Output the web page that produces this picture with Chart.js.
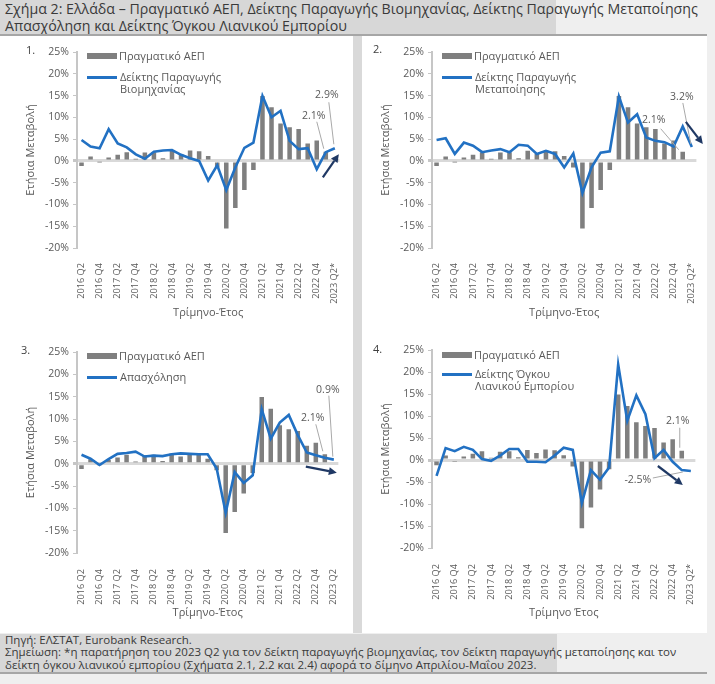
<!DOCTYPE html>
<html><head><meta charset="utf-8">
<script src="https://cdn.jsdelivr.net/npm/chart.js@4.4.0/dist/chart.umd.min.js"></script>
<style>
html,body{margin:0;padding:0;}
body{width:715px;height:684px;background:#efefef;position:relative;overflow:hidden;font-family:'Open Sans',sans-serif;color:#595959;}
.abs{position:absolute;}
canvas{position:absolute;}
.lgtext{position:absolute;font-size:11px;line-height:12px;color:#595959;white-space:nowrap;}
.num{position:absolute;font-size:11px;line-height:12px;color:#404040;}
</style></head>
<body>
<div class="abs" style="left:0;top:0;width:556px;height:34px;background:#d7d7d7;"></div>
<div class="abs" style="left:5px;top:1px;width:710px;font-size:14.2px;line-height:16.5px;color:#3a3a3a;white-space:nowrap;">Σχήμα 2: Ελλάδα – Πραγματικό ΑΕΠ, Δείκτης Παραγωγής Βιομηχανίας, Δείκτης Παραγωγής Μεταποίησης<br>Απασχόληση και Δείκτης Όγκου Λιανικού Εμπορίου</div>
<div class="abs" style="left:0;top:34px;width:707px;height:2px;background:#a6a6a6;"></div>
<div class="abs" style="left:0;top:36px;width:353px;height:597px;background:#ffffff;"></div>
<div class="abs" style="left:353px;top:36px;width:9px;height:597px;background:#d9d9d9;"></div>
<div class="abs" style="left:362px;top:36px;width:345px;height:597px;background:#ffffff;"></div>
<div class="abs" style="left:0;top:634px;width:557px;height:38px;background:#d7d7d7;"></div>
<div class="abs" style="left:5px;top:634px;width:710px;font-size:11.5px;line-height:12.3px;color:#3a3a3a;white-space:nowrap;">Πηγή: ΕΛΣΤΑΤ, Eurobank Research.<br>Σημείωση: *η παρατήρηση του 2023 Q2 για τον δείκτη παραγωγής βιομηχανίας, τον δείκτη παραγωγής μεταποίησης και τον<br>δείκτη όγκου λιανικού εμπορίου (Σχήματα 2.1, 2.2 και 2.4) αφορά το δίμηνο Απριλίου-Μαΐου 2023.</div>
<div class="abs" style="left:0;top:672px;width:707px;height:2px;background:#a6a6a6;"></div>

<canvas id="c1" width="353" height="290" style="left:0;top:40px;"></canvas>
<canvas id="c2" width="355" height="290" style="left:355px;top:40px;"></canvas>
<canvas id="c3" width="353" height="290" style="left:0;top:339px;"></canvas>
<canvas id="c4" width="355" height="290" style="left:355px;top:339px;"></canvas>

<div class="num" style="left:26px;top:44px;">1.</div>
<div class="num" style="left:373px;top:43px;">2.</div>
<div class="num" style="left:21px;top:344px;">3.</div>
<div class="num" style="left:373px;top:343px;">4.</div>

<div id="legends"></div>

<script>
const categories = ["2016 Q2","2016 Q3","2016 Q4","2017 Q1","2017 Q2","2017 Q3","2017 Q4","2018 Q1","2018 Q2","2018 Q3","2018 Q4","2019 Q1","2019 Q2","2019 Q3","2019 Q4","2020 Q1","2020 Q2","2020 Q3","2020 Q4","2021 Q1","2021 Q2","2021 Q3","2021 Q4","2022 Q1","2022 Q2","2022 Q3","2022 Q4","2023 Q1","2023 Q2"];
const gdp = [-1.2, 1.0, -0.2, 0.8, 1.4, 2.0, 0.5, 1.9, 2.0, 0.6, 2.3, 1.6, 2.4, 2.2, 1.1, -1.5, -15.5, -10.8, -6.7, -2.1, 14.9, 12.3, 8.6, 7.7, 7.3, 4.0, 4.7, 2.1, null];
const industrialProduction = [4.8, 3.3, 2.9, 7.3, 4.0, 3.1, 1.5, 0.5, 2.1, 2.4, 2.5, 1.4, 0.6, 0.0, -4.5, -1.0, -6.7, -1.5, 3.0, 4.2, 14.9, 10.0, 11.5, 4.6, 2.7, 2.9, -1.9, 2.0, 2.9];
const manufacturing = [4.8, 5.2, 1.6, 4.2, 3.5, 2.0, 2.4, 2.7, 2.0, 3.7, 3.5, 1.6, 2.3, 1.6, -1.5, 1.7, -7.4, -1.5, 1.9, 2.2, 14.8, 8.8, 10.7, 5.4, 4.6, 4.3, 3.3, 7.9, 3.2];
const employment = [2.0, 1.1, -0.3, 1.0, 2.2, 2.4, 2.7, 1.6, 1.8, 1.7, 2.1, 2.3, 2.2, 2.1, 2.1, -1.1, -11.0, -1.9, -4.3, -2.6, 12.2, 5.6, 9.2, 10.9, 6.4, 2.5, 1.9, 1.3, 0.9];
const retailVolume = [-3.6, 2.7, 2.0, 3.0, 2.3, 0.2, -0.2, 1.0, 2.5, 2.5, -0.4, -0.4, -0.5, 1.0, 2.8, 2.3, -9.8, -2.3, -4.5, -1.7, 21.7, 8.9, 14.7, 10.4, 0.4, 2.3, -0.4, -2.3, -2.5];
const yMin = -20, yMax = 25, yStep = 5;
const gdpLabel = "Πραγματικό ΑΕΠ";

const FONT = "'Open Sans', sans-serif";
const TXT = '#595959';
const BLUE = '#2271c3';
const GRAY = '#7f7f7f';
const NAVY = '#1f3864';
const AXIS = '#c6c6c6';
const ZERO = '#d9d9d9';

function pct(v){ return (Math.round(v*10)/10).toFixed(1) + '%'; }

function makeAnno(items, arrow){
  return {
    id: 'anno',
    afterDatasetsDraw(chart){
      const {ctx, scales:{x, y}} = chart;
      ctx.save();
      items.forEach(it => {
        const px = x.getPixelForValue(it.idx), py = y.getPixelForValue(it.val);
        ctx.strokeStyle = '#a9a9a9'; ctx.lineWidth = 1;
        ctx.beginPath();
        ctx.moveTo(px + it.lead[0][0], py + it.lead[0][1]);
        ctx.lineTo(px + it.lead[1][0], py + it.lead[1][1]);
        ctx.stroke();
        ctx.font = "10.5px " + FONT; ctx.fillStyle = TXT;
        ctx.textAlign = 'center'; ctx.textBaseline = 'middle';
        ctx.fillText(pct(it.val), px + it.label[0], py + it.label[1]);
      });
      if (arrow){
        const px = x.getPixelForValue(arrow.idx), py = y.getPixelForValue(arrow.val);
        const x1 = px + arrow.from[0], y1 = py + arrow.from[1];
        const x2 = px + arrow.to[0], y2 = py + arrow.to[1];
        const a = Math.atan2(y2 - y1, x2 - x1);
        const L = 8, W = 4;
        const bx = x2 - L*Math.cos(a), by = y2 - L*Math.sin(a);
        ctx.strokeStyle = NAVY; ctx.fillStyle = NAVY; ctx.lineWidth = 2.2;
        ctx.beginPath(); ctx.moveTo(x1, y1); ctx.lineTo(bx, by); ctx.stroke();
        ctx.beginPath();
        ctx.moveTo(x2, y2);
        ctx.lineTo(bx + W*Math.sin(a), by - W*Math.cos(a));
        ctx.lineTo(bx - W*Math.sin(a), by + W*Math.cos(a));
        ctx.closePath(); ctx.fill();
      }
      ctx.restore();
    }
  };
}

function makeChart(id, lineData, lineLabel, geo, xTitle, star, anno){
  const last = categories.length - 1;
  return new Chart(document.getElementById(id), {
    type: 'bar',
    data: {
      labels: categories,
      datasets: [
        {type:'line', label: lineLabel, data: lineData, borderColor: BLUE, backgroundColor: BLUE, borderWidth: 2.6, pointRadius: 0, tension: 0, fill: false, order: 1},
        {type:'bar', label: gdpLabel, data: gdp, backgroundColor: GRAY, barPercentage: 0.5, categoryPercentage: 1, order: 2}
      ]
    },
    options: {
      responsive: false, animation: false, devicePixelRatio: 1,
      layout: {padding: {left: 0, right: 7, top: geo.padTop, bottom: 0}},
      plugins: {legend: {display: false}, tooltip: {enabled: false}},
      scales: {
        x: {
          grid: {display: false}, border: {display: false},
          ticks: {autoSkip: false, minRotation: 90, maxRotation: 90, padding: geo.tickPad, color: TXT,
                  font: {family: FONT, size: 9.2},
                  callback: (v, i) => i % 2 === 0 ? (i === last ? categories[i] + star : categories[i]) : ''},
          title: {display: true, text: xTitle, color: TXT, font: {family: FONT, size: 11}, padding: {top: 0, bottom: geo.titlePad}},
          afterFit: s => { s.height = geo.xH; }
        },
        y: {
          min: yMin, max: yMax,
          ticks: {stepSize: yStep, padding: 4, color: TXT, font: {family: FONT, size: 10.5}, callback: v => v + '%'},
          grid: {
            color: c => (c.tick && c.tick.value === 0) ? ZERO : 'rgba(0,0,0,0)',
            lineWidth: c => (c.tick && c.tick.value === 0) ? 3 : 1,
            tickColor: AXIS, tickLength: 4, drawOnChartArea: true
          },
          border: {display: true, color: AXIS, width: 2},
          title: {display: true, text: 'Ετήσια Μεταβολή', color: TXT, font: {family: FONT, size: 11}, padding: {top: 24, bottom: 0}},
          afterFit: s => { s.width = 77; }
        }
      }
    },
    plugins: [anno]
  });
}

makeChart('c1', industrialProduction, 'Δείκτης Παραγωγής Βιομηχανίας',
  {padTop: 12, xH: 82, tickPad: 7, titlePad: 10.4}, 'Τρίμηνο-Έτος', '*',
  makeAnno([
    {idx: 28, val: industrialProduction[28], label: [-8, -53], lead: [[-6, -46], [-1, -4]]},
    {idx: 27, val: gdp[27], label: [-12, -36], lead: [[-9, -30], [-2, -3]]}
  ], {idx: 28, val: industrialProduction[28], from: [-12, 29], to: [4, 6]}));

makeChart('c2', manufacturing, 'Δείκτης Παραγωγής Μεταποίησης',
  {padTop: 12, xH: 82, tickPad: 7, titlePad: 10.4}, 'Τρίμηνο-Έτος', '*',
  makeAnno([
    {idx: 28, val: manufacturing[28], label: [-10, -50], lead: [[-9, -44], [-1, -3]]},
    {idx: 27, val: gdp[27], label: [-29, -32], lead: [[-22, -23], [-4, -2]]}
  ], {idx: 28, val: manufacturing[28], from: [-6, -25], to: [11, -3]}));

makeChart('c3', employment, 'Απασχόληση',
  {padTop: 13, xH: 76, tickPad: 8, titlePad: 9.4}, 'Τρίμηνο-Έτος', '',
  makeAnno([
    {idx: 28, val: employment[28], label: [-6, -70], lead: [[-5, -64], [-1, -3]]},
    {idx: 27, val: gdp[27], label: [-12, -36], lead: [[-9, -30], [-2, -3]]}
  ], {idx: 28, val: employment[28], from: [-28, 7], to: [3, 13]}));

makeChart('c4', retailVolume, 'Δείκτης Όγκου Λιανικού Εμπορίου',
  {padTop: 11, xH: 81, tickPad: 8, titlePad: 9.4}, 'Τρίμηνο Έτος', '*',
  makeAnno([
    {idx: 27, val: gdp[27], label: [-4, -30], lead: [[-2, -23], [-2, -3]]},
    {idx: 28, val: retailVolume[28], label: [-53, 9], lead: [[-38, 7], [-8, 1]]}
  ], {idx: 28, val: retailVolume[28], from: [-33, -5], to: [-8, 14]}));

// legends (HTML)
const legends = [
  {ox: 0, boxY: 53, lineY: 77, lines: ['Δείκτης Παραγωγής', 'Βιομηχανίας']},
  {ox: 355, boxY: 53, lineY: 77, lines: ['Δείκτης Παραγωγής', 'Μεταποίησης']},
  {ox: 0, boxY: 353, lineY: 377, lines: ['Απασχόληση']},
  {ox: 355, boxY: 352, lineY: 374, lines: ['Δείκτης Όγκου', 'Λιανικού Εμπορίου']}
];
const host = document.getElementById('legends');
legends.forEach(l => {
  const bx = l.ox + 87;
  host.insertAdjacentHTML('beforeend',
    `<div class="abs" style="left:${bx}px;top:${l.boxY}px;width:30px;height:6px;background:${GRAY};"></div>` +
    `<div class="lgtext" style="left:${bx + 32}px;top:${l.boxY - 3}px;">${gdpLabel}</div>` +
    `<div class="abs" style="left:${bx}px;top:${l.lineY - 1}px;width:30px;height:3px;background:${BLUE};"></div>` +
    `<div class="lgtext" style="left:${bx + 33}px;top:${l.lineY - 6}px;">${l.lines.join('<br>')}</div>`);
});
</script>
</body></html>
